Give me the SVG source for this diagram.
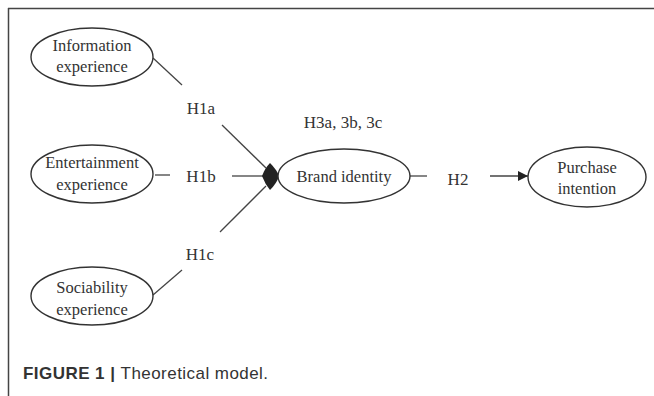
<svg xmlns="http://www.w3.org/2000/svg" width="654" height="396" viewBox="0 0 654 396">
<defs>
<style>
.node ellipse{fill:#fff;stroke:#333;stroke-width:1.4}
.nt{font-family:"Liberation Serif","Times New Roman",serif;font-size:16.5px;fill:#333;text-anchor:middle}
.lbl{font-family:"Liberation Serif","Times New Roman",serif;font-size:17px;fill:#333;text-anchor:middle}
.ln{stroke:#444;stroke-width:1.3;fill:none}
.cap{font-family:"Liberation Sans",Arial,sans-serif;font-size:17px;letter-spacing:0.45px;fill:#333}
</style>
<marker id="arr" viewBox="0 0 10 10" refX="10" refY="5" markerWidth="12" markerHeight="10" markerUnits="userSpaceOnUse" orient="auto">
<path d="M0,0 L10,5 L0,10 Z" fill="#222"/>
</marker>
</defs>
<rect width="654" height="396" fill="#fff"/>
<path d="M8,8.5 H654 M8.5,8 V396" stroke="#444" stroke-width="1.5" fill="none"/>

<g id="connectors">
<path class="ln" d="M153,58 L182,85"/>
<path class="ln" d="M222,125 L266,168"/>
<path class="ln" d="M155,175 L170,175"/>
<path class="ln" d="M232,176 L264,176"/>
<path class="ln" d="M153,295 L182,270"/>
<path class="ln" d="M220,232 L266,186"/>
<path id="hub" d="M262,176 Q265,168 270,163 Q277,170 279,176 Q277,183 270,190 Q265,184 262,176 Z" fill="#222"/>
<path class="ln" d="M410,176 L427,176"/>
<path class="ln" d="M490,176 L528,176" marker-end="url(#arr)"/>
<text class="lbl" x="201" y="114">H1a</text>
<text class="lbl" x="201" y="182">H1b</text>
<text class="lbl" x="200" y="260">H1c</text>
<text class="lbl" x="343" y="128">H3a, 3b, 3c</text>
<text class="lbl" x="458" y="185">H2</text>
</g>

<g id="info" class="node">
<ellipse cx="92" cy="57" rx="61" ry="29"/>
<text class="nt" x="92" y="51">Information</text>
<text class="nt" x="92" y="72">experience</text>
</g>
<g id="ent" class="node">
<ellipse cx="92" cy="174" rx="61" ry="29"/>
<text class="nt" x="92" y="168">Entertainment</text>
<text class="nt" x="92" y="190">experience</text>
</g>
<g id="soc" class="node">
<ellipse cx="92" cy="296" rx="61" ry="29"/>
<text class="nt" x="92" y="293">Sociability</text>
<text class="nt" x="92" y="315">experience</text>
</g>
<g id="brand" class="node">
<ellipse cx="344" cy="176" rx="66" ry="27"/>
<text class="nt" x="344" y="182">Brand identity</text>
</g>
<g id="purchase" class="node">
<ellipse cx="587" cy="177" rx="59" ry="30"/>
<text class="nt" x="587" y="173">Purchase</text>
<text class="nt" x="587" y="194">intention</text>
</g>

<text class="cap" x="23" y="379"><tspan font-weight="bold">FIGURE 1 | </tspan>Theoretical model.</text>
</svg>
